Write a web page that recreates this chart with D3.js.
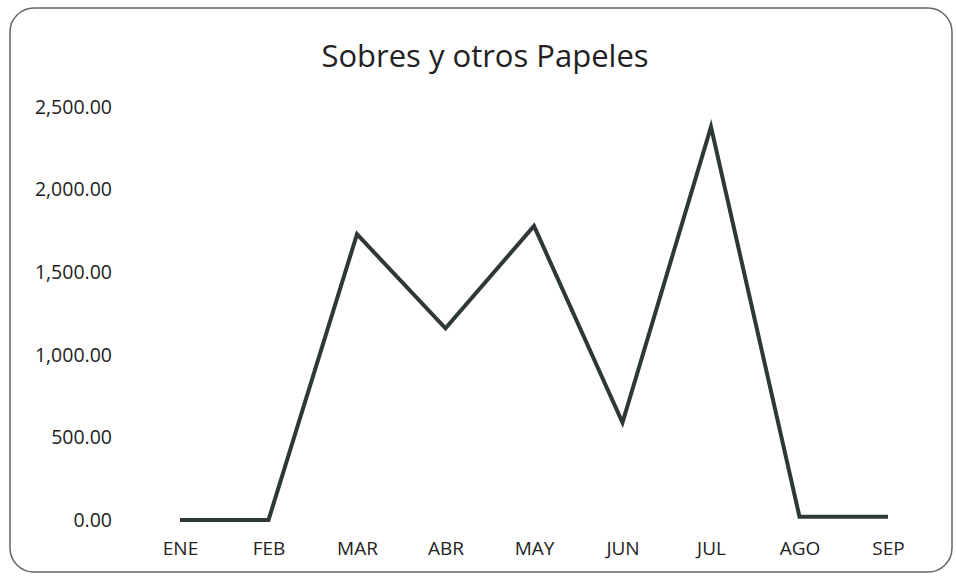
<!DOCTYPE html>
<html><head><meta charset="utf-8">
<script src="https://cdn.jsdelivr.net/npm/d3@7"></script>
<style>body{margin:0;background:#fff}svg{display:block}</style>
</head><body>
<svg id="c" width="956" height="577"></svg>
<script>
const title = "Sobres y otros Papeles";
const months = ["ENE","FEB","MAR","ABR","MAY","JUN","JUL","AGO","SEP"];
const values = [0, 0, 1730, 1160, 1780, 590, 2380, 20, 20];
const yTicks = [0, 500, 1000, 1500, 2000, 2500];

const svg = d3.select("#c");
const font = "'Open Sans', 'Noto Sans', sans-serif";

svg.append("rect").attr("x",10).attr("y",8).attr("width",942).attr("height",564)
  .attr("rx",24).attr("ry",24).attr("fill","#fff").attr("stroke","#666").attr("stroke-width",1.5);

svg.append("text").attr("x",485).attr("y",67).attr("text-anchor","middle")
  .attr("font-family",font).attr("font-size",31).attr("fill","#222").text(title);

const x = d3.scalePoint().domain(months).range([180, 888]);
const y = d3.scaleLinear().domain([0, 2500]).range([520, 107]);

const yAxis = svg.append("g").attr("transform","translate(112,0)")
  .call(d3.axisLeft(y).tickValues(yTicks).tickSize(0).tickPadding(0).tickFormat(d3.format(",.2f")));
yAxis.select(".domain").remove();
yAxis.selectAll("text").attr("font-family",font).attr("font-size",19.5).attr("fill","#222");

const xAxis = svg.append("g").attr("transform","translate(0,541)")
  .call(d3.axisBottom(x).tickSize(0).tickPadding(0));
xAxis.select(".domain").remove();
xAxis.selectAll("text").attr("font-family",font).attr("font-size",19).attr("fill","#222");

svg.append("path").datum(values)
  .attr("d", d3.line().x((d,i)=>x(months[i])).y(d=>y(d)))
  .attr("fill","none").attr("stroke","#2e3838").attr("stroke-width",4)
  .attr("stroke-linejoin","miter");
</script>
</body></html>
